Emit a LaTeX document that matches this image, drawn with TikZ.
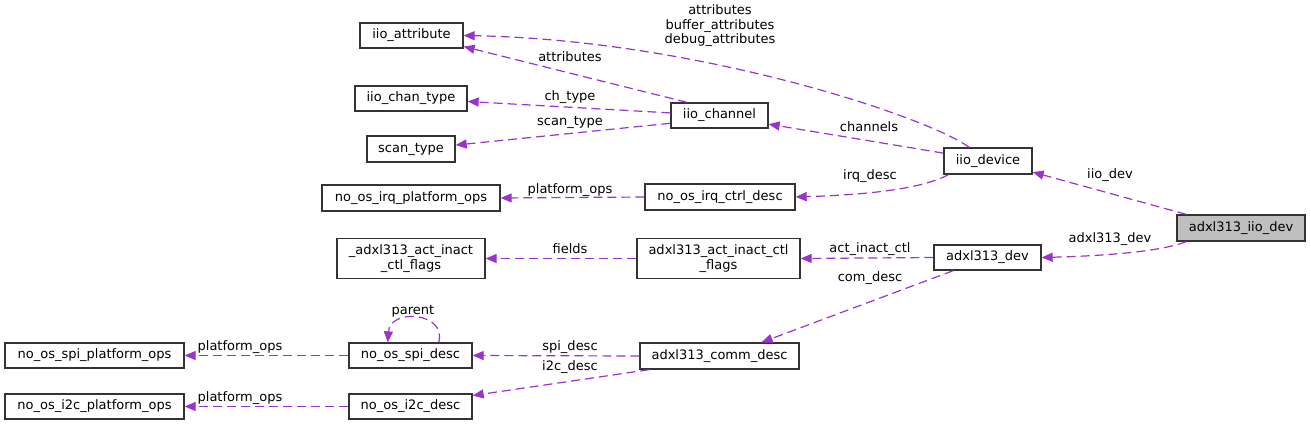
\documentclass[tikz,border=0pt]{standalone}
\usepackage{fontspec}
\setmainfont{DejaVu Sans}
\usetikzlibrary{arrows.meta}

\begin{document}
\begin{tikzpicture}[x=1pt, y=-1pt, font=\fontsize{13}{14.5}\selectfont]
  % Define colours
  \definecolor{edgeColour}{HTML}{9A32CD}
  \definecolor{borderColour}{HTML}{333333}
  \definecolor{rootColour}{HTML}{BFBFBF}

  % Styles for the boxes, the dashed links and their labels
  \tikzset{
    structbox/.style={draw=borderColour, line width=1.3pt, fill=white, inner sep=0pt, align=center},
    uses/.style={draw=edgeColour, line width=1.2pt, dash pattern=on 9pt off 5pt,
      -{Triangle[length=11pt, width=9pt]}},
    lbl/.style={inner sep=0pt, align=center}
  }

  % Fix the size of the picture
  \useasboundingbox (0,0) rectangle (1311,425);

  % Left column
  \node[structbox, minimum width=179pt, minimum height=25pt] (spiplat) at (94.5,355.5) {no\_os\_spi\_platform\_ops};
  \node[structbox, minimum width=179pt, minimum height=25pt] (i2cplat) at (94.5,406.5) {no\_os\_i2c\_platform\_ops};

  % Second column
  \node[structbox, minimum width=103pt, minimum height=25pt] (attr) at (411.5,35.5) {iio\_attribute};
  \node[structbox, minimum width=112pt, minimum height=25pt] (chantype) at (411,98.5) {iio\_chan\_type};
  \node[structbox, minimum width=88pt, minimum height=26pt] (scan) at (411,149) {scan\_type};
  \node[structbox, minimum width=178pt, minimum height=26pt] (irqplat) at (411,198) {no\_os\_irq\_platform\_ops};
  \node[structbox, minimum width=148pt, minimum height=40pt] (flags) at (411,258.5) {\_adxl313\_act\_inact\\\_ctl\_flags};
  \node[structbox, minimum width=123pt, minimum height=25pt] (spi) at (410.5,355.5) {no\_os\_spi\_desc};
  \node[structbox, minimum width=123pt, minimum height=25pt] (i2c) at (410.5,406.5) {no\_os\_i2c\_desc};

  % Third column
  \node[structbox, minimum width=97pt, minimum height=25pt] (chan) at (719.5,115.5) {iio\_channel};
  \node[structbox, minimum width=150pt, minimum height=26pt] (irqctrl) at (720,197) {no\_os\_irq\_ctrl\_desc};
  \node[structbox, minimum width=163pt, minimum height=40pt] (actflags) at (718.5,258.5) {adxl313\_act\_inact\_ctl\\\_flags};
  \node[structbox, minimum width=159pt, minimum height=26pt] (comm) at (719.5,356) {adxl313\_comm\_desc};

  % Fourth column
  \node[structbox, minimum width=88pt, minimum height=26pt] (iiodev) at (988,161) {iio\_device};
  \node[structbox, minimum width=107pt, minimum height=25pt] (adxldev) at (987.5,257.5) {adxl313\_dev};

  % The documented struct
  \node[structbox, fill=rootColour, minimum width=128pt, minimum height=26pt] (top) at (1241,228) {adxl313\_iio\_dev};

  % Links
  \draw[uses] (iiodev.144) .. controls (930,118) and (700,40) .. (attr.east);
  \draw[uses] (chan.158) -- (attr.-12);
  \draw[uses] (chan.177) -- (chantype.-3);
  \draw[uses] (chan.189) -- (scan.5);
  \draw[uses] (iiodev.170) -- (chan.-10);
  \draw[uses] (iiodev.199) .. controls (920,190) and (860,195) .. (irqctrl.east);
  \draw[uses] (irqctrl.west) -- (irqplat.east);
  \draw[uses] (top.166) -- (iiodev.-14);
  \draw[uses] (top.194) .. controls (1160,252) and (1100,256) .. (adxldev.east);
  \draw[uses] (adxldev.west) -- (actflags.east);
  \draw[uses] (actflags.west) -- (flags.east);
  \draw[uses] (adxldev.201) -- (comm.18);
  \draw[uses] (comm.west) -- (spi.east);
  \draw[uses] (comm.191) -- (i2c.10);
  \draw[uses] (spi.25) .. controls (447,312) and (390,308) .. (spi.150);
  \draw[uses] (spi.west) -- (spiplat.east);
  \draw[uses] (i2c.west) -- (i2cplat.east);

  % Link labels
  \node[lbl] (l-attrs) at (720,26) {attributes\\buffer\_attributes\\debug\_attributes};
  \node[lbl] (l-chattr) at (570,57) {attributes};
  \node[lbl] (l-chtype) at (570,97) {ch\_type};
  \node[lbl] (l-scan) at (570,122) {scan\_type};
  \node[lbl] (l-chan) at (869,127) {channels};
  \node[lbl] (l-irq) at (870,176) {irq\_desc};
  \node[lbl] (l-irqops) at (570,190) {platform\_ops};
  \node[lbl] (l-iiodev) at (1110,175) {iio\_dev};
  \node[lbl] (l-adxldev) at (1110,239) {adxl313\_dev};
  \node[lbl] (l-act) at (870,249) {act\_inact\_ctl};
  \node[lbl] (l-fields) at (570,249) {fields};
  \node[lbl] (l-com) at (870,278) {com\_desc};
  \node[lbl] (l-spi) at (570,347) {spi\_desc};
  \node[lbl] (l-i2c) at (570,367) {i2c\_desc};
  \node[lbl] (l-parent) at (413,311) {parent};
  \node[lbl] (l-spiops) at (240,347) {platform\_ops};
  \node[lbl] (l-i2cops) at (240,398) {platform\_ops};
\end{tikzpicture}
\end{document}
